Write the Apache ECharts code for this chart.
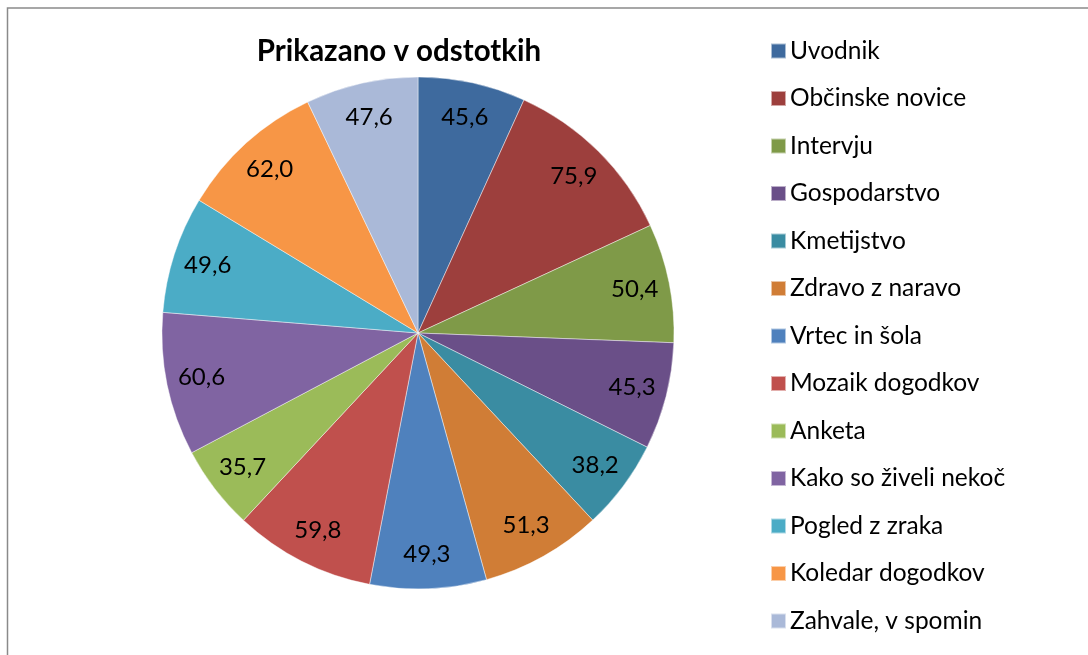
<!DOCTYPE html>
<html>
<head>
<meta charset="utf-8">
<style>
  html, body { margin: 0; padding: 0; background: #fff; }
  #chart { width: 1088px; height: 655px; }
</style>
<script src="https://cdn.jsdelivr.net/npm/echarts@6/dist/echarts.min.js"></script>
</head>
<body>
<div id="chart"></div>
<script>
// rubrike
const categories = [
  'Uvodnik', 'Občinske novice', 'Intervju', 'Gospodarstvo', 'Kmetijstvo',
  'Zdravo z naravo', 'Vrtec in šola', 'Mozaik dogodkov', 'Anketa',
  'Kako so živeli nekoč', 'Pogled z zraka', 'Koledar dogodkov', 'Zahvale, v spomin'
];
// odstotki
const values = [45.6, 75.9, 50.4, 45.3, 38.2, 51.3, 49.3, 59.8, 35.7, 60.6, 49.6, 62.0, 47.6];
const colors = [
  '#3e6a9e', '#9d3f3d', '#7f9a48', '#6a4f88', '#3a8ca2', '#d07d36', '#4f81bd',
  '#c0504d', '#9bbb59', '#8064a2', '#4bacc6', '#f79646', '#aab9d8'
];

const font = 'Lato';
const center = [418, 333];

let data = categories.map(function(name, i) {
  return { name: name, value: values[i] };
});

let chart = echarts.init(document.getElementById('chart'), null, { renderer: 'canvas' });

chart.setOption({
  animation: false,
  color: colors,
  title: {
    text: 'Prikazano v odstotkih',
    left: 394,
    textAlign: 'center',
    top: 31,
    textStyle: { fontFamily: font, fontWeight: 'bold', fontSize: 29.5, color: '#000' }
  },
  legend: {
    orient: 'vertical',
    left: 765,
    top: 32,
    itemWidth: 15,
    itemHeight: 15,
    itemGap: 19.5,
    icon: 'rect',
    textStyle: { fontFamily: font, fontSize: 24.5, color: '#000', lineHeight: 28, padding: [0, 0, 0, -1] },
    data: categories
  },
  graphic: [{
    type: 'rect',
    shape: { x: 7.5, y: 8, width: 1200, height: 1000 },
    style: { fill: 'none', stroke: '#8a8a8a', lineWidth: 1.5 },
    silent: true
  }],
  series: [{
    type: 'pie',
    center: center,
    radius: [0, 256],
    startAngle: 90,
    clockwise: true,
    data: data,
    label: { show: false },
    labelLine: { show: false },
    itemStyle: { borderColor: 'rgba(255,255,255,0.55)', borderWidth: 0.8 },
    emphasis: { disabled: true }
  }, {
    // podatkovne oznake
    type: 'pie',
    center: center,
    radius: [180, 256],
    startAngle: 90,
    clockwise: true,
    silent: true,
    data: data,
    itemStyle: { color: 'rgba(0,0,0,0)' },
    label: {
      show: true,
      position: 'inside',
      fontFamily: font,
      fontSize: 24,
      color: '#000',
      formatter: function(p) { return p.value.toFixed(1).replace('.', ','); }
    },
    labelLine: { show: false },
    emphasis: { disabled: true }
  }]
});
</script>
</body>
</html>
